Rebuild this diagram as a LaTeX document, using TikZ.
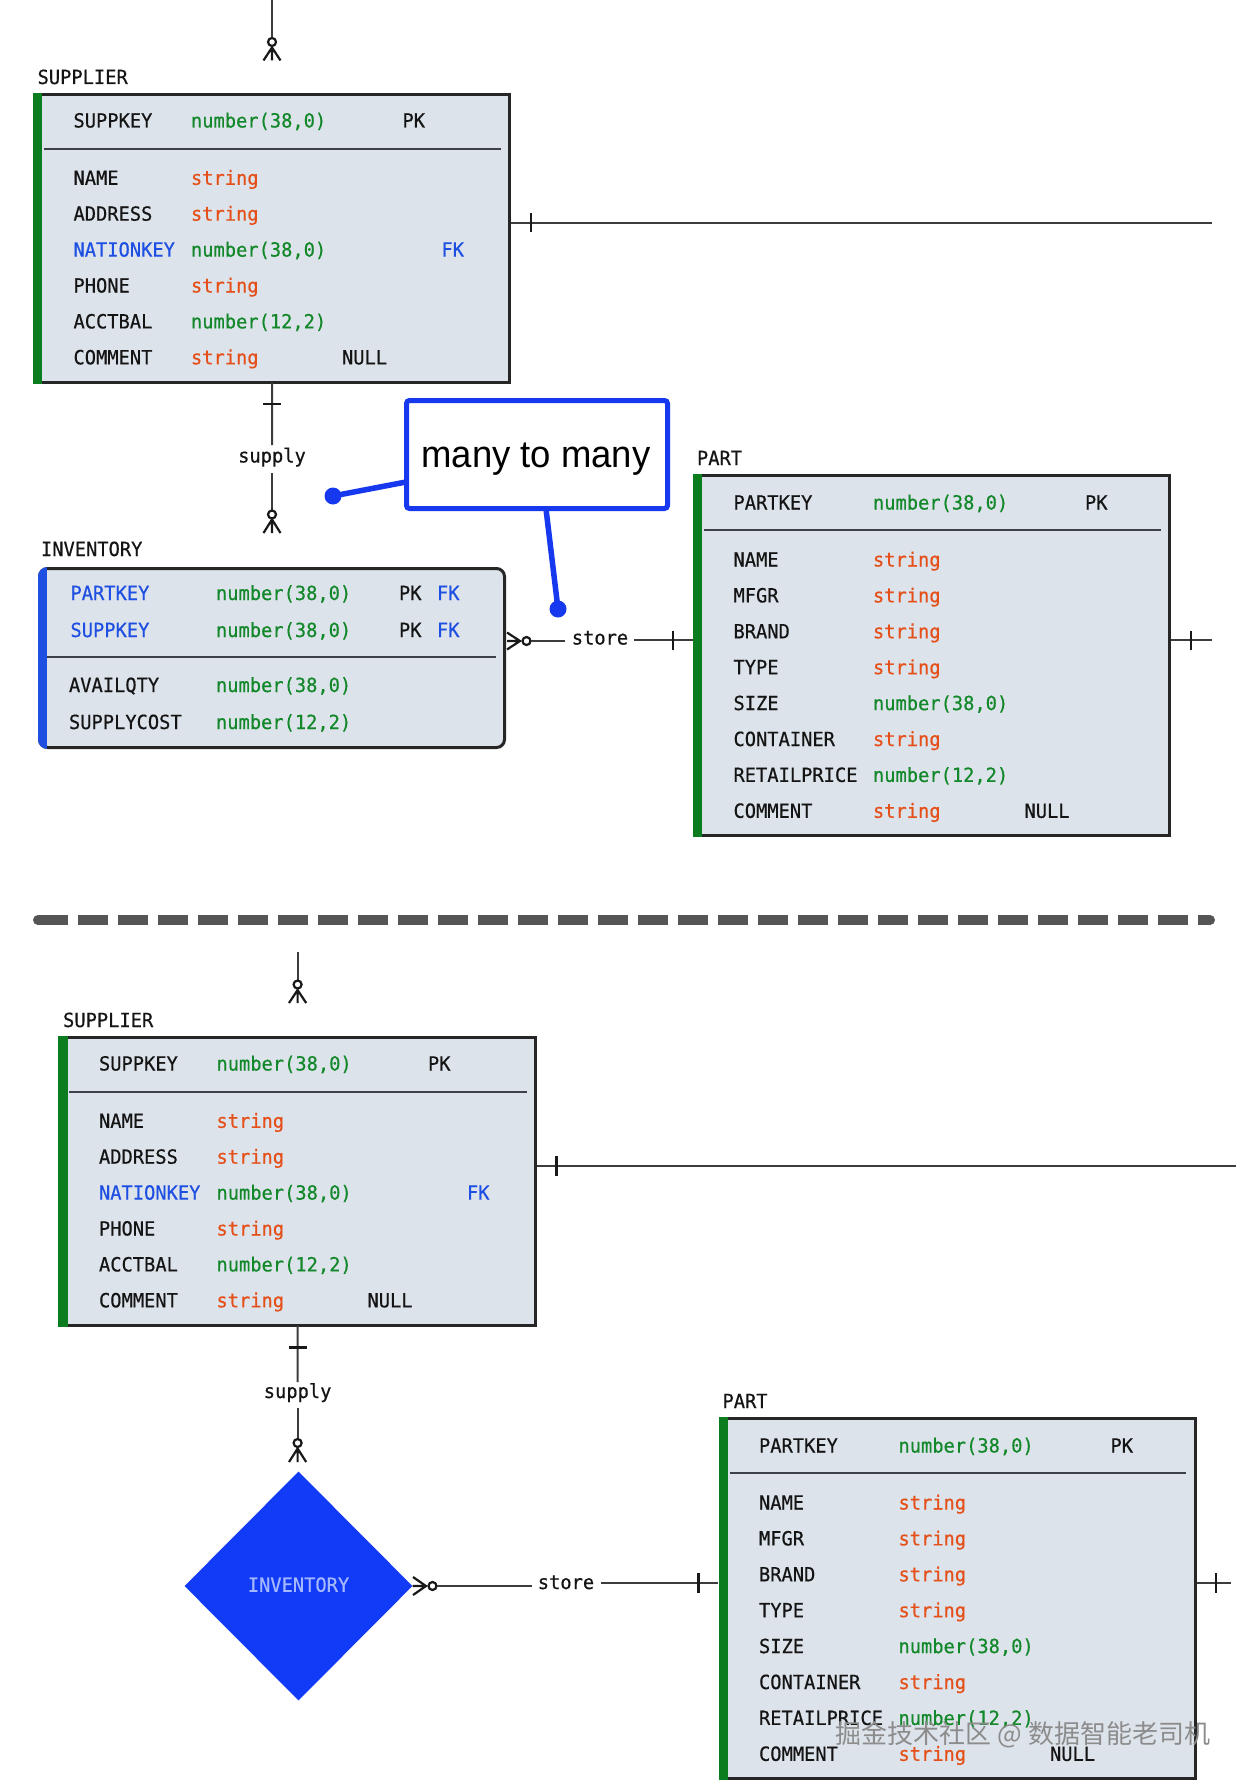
\documentclass[tikz,border=0pt]{standalone}
\usepackage{fontspec}
\newfontfamily\monof[FakeStretch=0.96,FakeBold=0.5]{DejaVu Sans Mono}
\newfontfamily\callf[FakeStretch=0.96]{Liberation Sans}
\newfontfamily\cjkf{Noto Sans CJK SC}
\usetikzlibrary{shapes.geometric,shadows}
\definecolor{boxfill}{HTML}{DDE3EA}
\definecolor{boxline}{HTML}{262626}
\definecolor{divgray}{HTML}{3D4248}
\definecolor{barGreen}{HTML}{0B7D1E}
\definecolor{typeGreen}{HTML}{12882A}
\definecolor{strOrange}{HTML}{E5501A}
\definecolor{keyBlue}{HTML}{1E4FE3}
\definecolor{callBlue}{HTML}{1638EE}
\definecolor{diaBlue}{HTML}{123BF7}
\definecolor{diaText}{HTML}{A4B8FF}
\definecolor{connGray}{HTML}{3C3C3C}
\definecolor{sepGray}{HTML}{555555}
\tikzset{
 txt/.style={font=\monof\fontsize{19.5}{22}\selectfont, inner sep=0pt, outer sep=0pt, anchor=base west, text=black!92},
 ty/.style={txt, text=typeGreen},
 st/.style={txt, text=strOrange},
 kb/.style={txt, text=keyBlue},
 lbl/.style={font=\monof\fontsize{19.5}{22}\selectfont, inner sep=0pt, anchor=base, text=black!92},
 tablebox/.style={draw=boxline, line width=3pt, fill=boxfill, inner sep=0pt, outer sep=0pt, anchor=north west},
 divider/.style={draw=divgray, line width=2.2pt},
 conn/.style={draw=connGray, line width=2pt},
 tickmark/.style={draw=black!90, line width=2.4pt},
 crow/.style={draw=black!90, line width=2.2pt},
 pointer/.style={draw=callBlue, line width=5.5pt},
}
\newcommand\mySupp[3]{%
\begin{scope}[shift={(#2,#3)}]
\node[txt] (#1lab) at (37.6,84) {SUPPLIER};
\node[tablebox, minimum width=475.5pt, minimum height=288pt] (#1box) at (34.3,94.5) {};
\fill[barGreen] (32.8,93) rectangle (42.3,384);
\draw[divider] (43.5,149) -- (501,149);
\node[txt] (#1n0) at (73.5,127.5) {SUPPKEY};
\node[ty] (#1t0) at (191,127.5) {number(38,0)};
\node[txt] (#1k0) at (402.5,127.5) {PK};
\node[txt] (#1n1) at (73.5,184.8) {NAME};
\node[st] (#1t1) at (191,184.8) {string};
\node[txt] (#1n2) at (73.5,220.7) {ADDRESS};
\node[st] (#1t2) at (191,220.7) {string};
\node[kb] (#1n3) at (73.5,256.6) {NATIONKEY};
\node[ty] (#1t3) at (191,256.6) {number(38,0)};
\node[kb] (#1k3) at (441.5,256.6) {FK};
\node[txt] (#1n4) at (73.5,292.5) {PHONE};
\node[st] (#1t4) at (191,292.5) {string};
\node[txt] (#1n5) at (73.5,328.4) {ACCTBAL};
\node[ty] (#1t5) at (191,328.4) {number(12,2)};
\node[txt] (#1n6) at (73.5,364.3) {COMMENT};
\node[st] (#1t6) at (191,364.3) {string};
\node[txt] (#1k6) at (342,364.3) {NULL};
\end{scope}}
\newcommand\myPart[3]{%
\begin{scope}[shift={(#2,#3)}]
\node[txt] (#1lab) at (697,465) {PART};
\node[tablebox, minimum width=475pt, minimum height=360pt] (#1box) at (694.5,475.5) {};
\fill[barGreen] (693,474) rectangle (702.3,837);
\draw[divider] (704,530) -- (1160.5,530);
\node[txt] (#1n0) at (733.5,509.5) {PARTKEY};
\node[ty] (#1t0) at (873,509.5) {number(38,0)};
\node[txt] (#1k0) at (1085,509.5) {PK};
\node[txt] (#1n1) at (733.5,566.5) {NAME};
\node[st] (#1t1) at (873,566.5) {string};
\node[txt] (#1n2) at (733.5,602.4) {MFGR};
\node[st] (#1t2) at (873,602.4) {string};
\node[txt] (#1n3) at (733.5,638.3) {BRAND};
\node[st] (#1t3) at (873,638.3) {string};
\node[txt] (#1n4) at (733.5,674.2) {TYPE};
\node[st] (#1t4) at (873,674.2) {string};
\node[txt] (#1n5) at (733.5,710.1) {SIZE};
\node[ty] (#1t5) at (873,710.1) {number(38,0)};
\node[txt] (#1n6) at (733.5,746.0) {CONTAINER};
\node[st] (#1t6) at (873,746.0) {string};
\node[txt] (#1n7) at (733.5,781.9) {RETAILPRICE};
\node[ty] (#1t7) at (873,781.9) {number(12,2)};
\node[txt] (#1n8) at (733.5,817.8) {COMMENT};
\node[st] (#1t8) at (873,817.8) {string};
\node[txt] (#1k8) at (1024.5,817.8) {NULL};
\end{scope}}
\begin{document}
\begin{tikzpicture}[x=1pt,y=-1pt]
\useasboundingbox (0,0) rectangle (1241,1787);
\fill[white] (0,0) rectangle (1241,1787);

% ===================== upper diagram =====================
\mySupp{sa}{0}{0}
\myPart{pa}{0}{0}

% INVENTORY table
\node[txt] (invlab) at (41,556) {INVENTORY};
\node[tablebox, rounded corners=8pt, minimum width=465pt, minimum height=179pt] (inva) at (39.5,568.5) {};
\begin{scope}
\clip[rounded corners=9.5pt] (38,567) rectangle (506,749);
\fill[keyBlue] (38,567) rectangle (46.5,749);
\end{scope}
\draw[divider] (47,657) -- (496,657);
\node[kb] (ia0) at (70.5,600) {PARTKEY};
\node[ty] (ia0t) at (216,600) {number(38,0)};
\node[txt] (ia0p) at (399,600) {PK};
\node[kb] (ia0f) at (437,600) {FK};
\node[kb] (ia1) at (70.5,637) {SUPPKEY};
\node[ty] (ia1t) at (216,637) {number(38,0)};
\node[txt] (ia1p) at (399,637) {PK};
\node[kb] (ia1f) at (437,637) {FK};
\node[txt] (ia2) at (69,692) {AVAILQTY};
\node[ty] (ia2t) at (216,692) {number(38,0)};
\node[txt] (ia3) at (69,729) {SUPPLYCOST};
\node[ty] (ia3t) at (216,729) {number(12,2)};

% connector entering SUPPLIER from above
\coordinate (saTop) at (272,0);
\coordinate (saTopEnd) at (272,37.5);
\draw[conn] (saTop) -- (saTopEnd);
\draw[crow] (272,42) circle (4pt);
\draw[crow] (263.5,60.5) -- (272,47.5) -- (280.5,60.5) (272,46.5) -- (272,60.5);

% SUPPLIER right connector
\coordinate (saR) at (1212,222.7);
\coordinate (saRs) at (511,222.7);
\draw[conn] (saRs) -- (saR);
\draw[tickmark] (531,213) -- (531,232.5);

% supply
\node[lbl] (supA) at (272,462.5) {supply};
\coordinate (supAu) at (272,445);
\coordinate (supAl) at (272,473);
\coordinate (supAc) at (272,510.5);
\draw[conn] (sabox.south) -- (supAu);
\draw[tickmark] (263,404) -- (281,404);
\draw[conn] (supAl) -- (supAc);
\draw[crow] (272,514.5) circle (4pt);
\draw[crow] (263.5,533) -- (272,519.5) -- (280.5,533) (272,518.5) -- (272,533);

% store
\draw[crow] (507,632.5) -- (520,641) -- (507,649.5) (507,641) -- (520,641);
\draw[crow] (526.5,641) circle (4pt);
\coordinate (stAa) at (530.5,641);
\coordinate (stAb) at (565,641);
\draw[conn] (stAa) -- (stAb);
\node[lbl] (stoA) at (600,644.5) {store};
\coordinate (stAc) at (634,640);
\coordinate (stAd) at (693,640);
\draw[conn] (stAc) -- (stAd);
\draw[tickmark] (673,630.5) -- (673,649.5);

% PART right connector
\coordinate (paRs) at (1171,640);
\coordinate (paR) at (1212,640);
\draw[conn] (paRs) -- (paR);
\draw[tickmark] (1191,630.5) -- (1191,649.5);

% callout
\coordinate (dot1) at (333,496);
\coordinate (dot2) at (558,609);
\draw[pointer] (406,482) -- (dot1);
\fill[callBlue] (dot1) circle (8.5pt);
\draw[pointer] (546,509) -- (dot2);
\fill[callBlue] (dot2) circle (8.5pt);
\node[draw=callBlue, line width=5pt, fill=white, rounded corners=3pt, minimum width=261pt, minimum height=108pt, inner sep=0pt,
  drop shadow={shadow xshift=1.5pt, shadow yshift=-1.5pt, opacity=0.3}] (callout) at (537,454.5) {};
\node[font=\callf\fontsize{38}{40}\selectfont, inner sep=0pt, anchor=base, text=black] (calltxt) at (536,467) {many to many};

% ===================== separator =====================
\draw[sepGray, line width=10pt, dash pattern=on 30pt off 10pt] (38,920) -- (1210,920);
\fill[sepGray] (38,920) circle (5pt);
\fill[sepGray] (1210,920) circle (5pt);

% ===================== lower diagram =====================
\mySupp{sb}{25.5}{943}
\myPart{pb}{25.5}{943}

\node[diamond, shape aspect=1, fill=diaBlue, minimum width=228pt, minimum height=229pt, inner sep=0pt,
  font=\monof\fontsize{19.5}{22}\selectfont, text=diaText] (invb) at (298.5,1586) {\raisebox{3pt}{INVENTORY}};

% connector entering SUPPLIER from above
\coordinate (sbTop) at (297.6,952);
\coordinate (sbTopEnd) at (297.6,980.5);
\draw[conn] (sbTop) -- (sbTopEnd);
\draw[crow] (297.6,984.5) circle (4pt);
\draw[crow] (289,1003) -- (297.6,990) -- (306.2,1003) (297.6,988.5) -- (297.6,1003);

% SUPPLIER right connector
\coordinate (sbRs) at (536.5,1165.7);
\coordinate (sbR) at (1236,1165.7);
\draw[conn] (sbRs) -- (sbR);
\draw[tickmark] (556.5,1156) -- (556.5,1175.5);

% supply
\node[lbl] (supB) at (297.6,1398) {supply};
\coordinate (supBu) at (297.6,1382);
\coordinate (supBl) at (297.6,1408);
\coordinate (supBc) at (297.6,1439);
\draw[conn] (sbbox.south) -- (supBu);
\draw[tickmark] (288.5,1347.5) -- (306.5,1347.5);
\draw[conn] (supBl) -- (supBc);
\draw[crow] (297.6,1443) circle (4pt);
\draw[crow] (289,1462) -- (297.6,1448.5) -- (306.2,1462) (297.6,1447) -- (297.6,1462);

% store
\draw[crow] (413,1577) -- (426,1586) -- (413,1595) (invb.east) -- (426,1586);
\draw[crow] (432.5,1586) circle (4pt);
\coordinate (stBa) at (436.5,1586);
\coordinate (stBb) at (531.5,1586);
\draw[conn] (stBa) -- (stBb);
\node[lbl] (stoB) at (566,1589) {store};
\coordinate (stBc) at (601,1583);
\coordinate (stBd) at (718,1583);
\draw[conn] (stBc) -- (stBd);
\draw[tickmark] (698.4,1573) -- (698.4,1592.5);

% PART right connector
\coordinate (pbRs) at (1196.5,1582.7);
\coordinate (pbR) at (1231,1582.7);
\draw[conn] (pbRs) -- (pbR);
\draw[tickmark] (1216,1573) -- (1216,1592.5);

% watermark (overlaps the PART table in the reference as well)
\node[font=\cjkf\fontsize{26}{28}\selectfont, text=black!45, inner sep=0pt] (wm) at (1023,1735) {掘金技术社区 @ 数据智能老司机};
\end{tikzpicture}
\end{document}
